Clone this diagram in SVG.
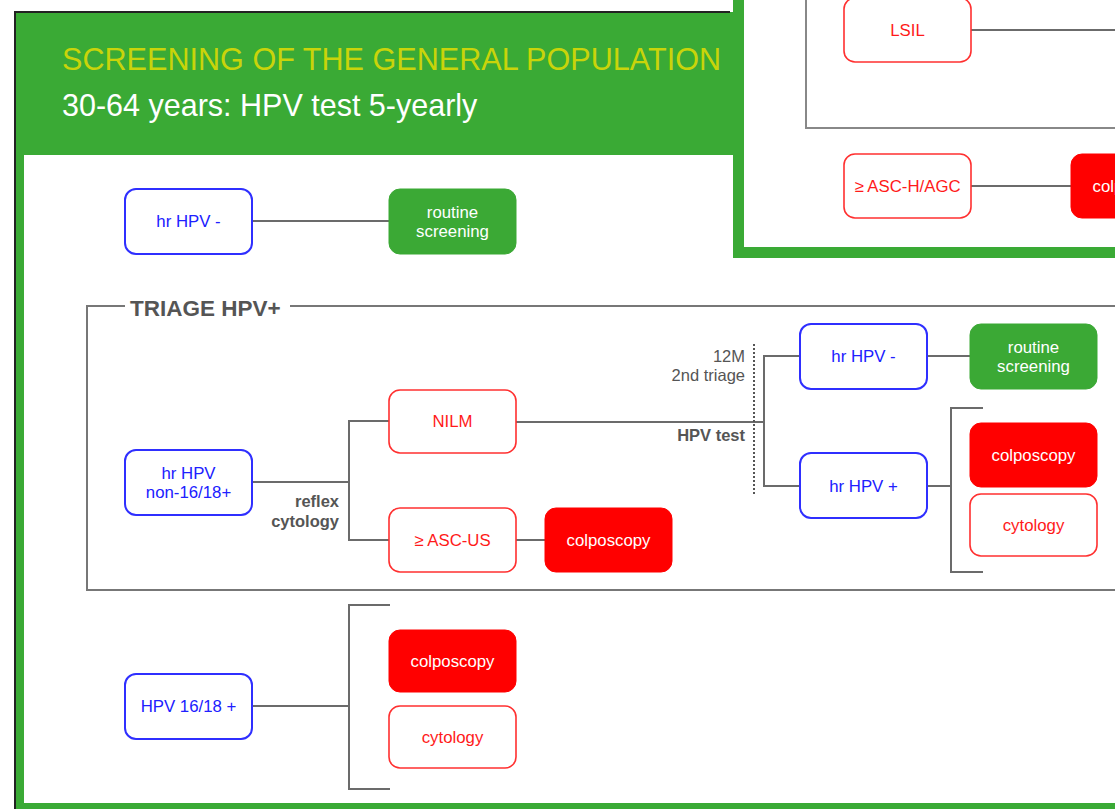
<svg xmlns="http://www.w3.org/2000/svg" width="1115" height="809" viewBox="0 0 1115 809">
<style>
text{font-family:"Liberation Sans",Arial,sans-serif;text-anchor:middle}
.bl{fill:#fff;stroke:#2f2fff;stroke-width:2}
.ro{fill:#fff;stroke:#ff3030;stroke-width:1.6}
.rf{fill:#ff0000;stroke:#ff0000;stroke-width:1}
.gf{fill:#3ba935;stroke:#3ba935;stroke-width:1}
.tb{fill:#2020ff;font-size:16.8px}
.tr{fill:#ff1a1a;font-size:16.8px}
.tw{fill:#fff;font-size:16.8px}
.lbl{fill:#555;font-size:16.5px;text-anchor:end}
.b{font-weight:bold}
.con{fill:none;stroke:#6b6b6b;stroke-width:2}
</style>
<rect width="1115" height="809" fill="#fff"/>
<!-- main frame -->
<g id="frame">
<rect x="16" y="12" width="1120" height="800" fill="#3aaa35"/>
<rect x="24" y="155" width="1100" height="648" fill="#fff"/>
<path d="M15 809 V12 H730" fill="none" stroke="#222" stroke-width="2"/>
<text x="62" y="70" style="text-anchor:start;font-size:30.6px;fill:#c9d40a">SCREENING OF THE GENERAL POPULATION</text>
<text x="62" y="116" style="text-anchor:start;font-size:30.5px;fill:#fff">30-64 years: HPV test 5-yearly</text>
</g>
<!-- triage group -->
<g id="triage-box">
<path d="M125 306 H87 V590 H1130 M290 306 H1130" fill="none" stroke="#777" stroke-width="2"/>
<text x="130" y="316" class="b" style="text-anchor:start;font-size:22.5px;fill:#555">TRIAGE HPV+</text>
</g>
<!-- connectors -->
<g id="connectors" class="con">
<path d="M252 221 H389"/>
<path d="M252 482 H349 M389 421 H349 V540 H389"/>
<path d="M516 540 H545"/>
<path d="M516 422 H764 M800 356 H764 V486 H800"/>
<path d="M927 356 H970"/>
<path d="M927 486 H951 M983 408 H951 V572 H983"/>
<path d="M252 706 H349 M390 605 H349 V789 H390"/>
<path d="M754 344 V496" stroke="#555" stroke-width="2" stroke-dasharray="2 2"/>
</g>
<g id="labels">
<text x="339" y="507" class="lbl b">reflex</text>
<text x="339" y="527" class="lbl b">cytology</text>
<text x="745" y="362" class="lbl">12M</text>
<text x="745" y="381" class="lbl">2nd triage</text>
<text x="745" y="441" class="lbl b">HPV test</text>
</g>
<!-- nodes -->
<g id="n-hrhpv-neg"><rect x="125" y="189" width="127" height="65" rx="11" class="bl"/><text x="188.5" y="227" class="tb">hr HPV -</text></g>
<g id="n-routine1"><rect x="389" y="189" width="127" height="65" rx="11" class="gf"/><text x="452.5" y="218" class="tw">routine</text><text x="452.5" y="237" class="tw">screening</text></g>
<g id="n-hrhpv-non"><rect x="125" y="450" width="127" height="65" rx="11" class="bl"/><text x="188.5" y="479" class="tb">hr HPV</text><text x="188.5" y="498" class="tb">non-16/18+</text></g>
<g id="n-nilm"><rect x="389" y="390" width="127" height="63" rx="11" class="ro"/><text x="452.5" y="427" class="tr">NILM</text></g>
<g id="n-ascus"><rect x="389" y="508" width="127" height="64" rx="11" class="ro"/><text x="452.5" y="546" class="tr">≥ ASC-US</text></g>
<g id="n-colpo1"><rect x="545" y="508" width="127" height="64" rx="11" class="rf"/><text x="608.5" y="546" class="tw">colposcopy</text></g>
<g id="n-hrhpv-neg2"><rect x="800" y="324" width="127" height="65" rx="11" class="bl"/><text x="863.5" y="362" class="tb">hr HPV -</text></g>
<g id="n-routine2"><rect x="970" y="324" width="127" height="65" rx="11" class="gf"/><text x="1033.5" y="353" class="tw">routine</text><text x="1033.5" y="372" class="tw">screening</text></g>
<g id="n-hrhpv-pos"><rect x="800" y="453" width="127" height="65" rx="11" class="bl"/><text x="863.5" y="492" class="tb">hr HPV +</text></g>
<g id="n-colpo2"><rect x="970" y="423" width="127" height="64" rx="11" class="rf"/><text x="1033.5" y="461" class="tw">colposcopy</text></g>
<g id="n-cyto2"><rect x="970" y="494" width="127" height="62" rx="11" class="ro"/><text x="1033.5" y="531" class="tr">cytology</text></g>
<g id="n-hpv1618"><rect x="125" y="674" width="127" height="65" rx="11" class="bl"/><text x="188.5" y="712" class="tb">HPV 16/18 +</text></g>
<g id="n-colpo3"><rect x="389" y="630" width="127" height="62" rx="11" class="rf"/><text x="452.5" y="667" class="tw">colposcopy</text></g>
<g id="n-cyto3"><rect x="389" y="706" width="127" height="62" rx="11" class="ro"/><text x="452.5" y="743" class="tr">cytology</text></g>
<!-- overlay panel -->
<g id="overlay">
<rect x="738.5" y="-20" width="400" height="272.5" fill="#fff" stroke="#3aaa35" stroke-width="11"/>
<path d="M806 -5 V128 H1130" fill="none" stroke="#888" stroke-width="2"/>
<path d="M971 30 H1130 M971 186 H1071" class="con"/>
<g id="n-lsil"><rect x="844" y="-2" width="127" height="64" rx="11" class="ro"/><text x="907.5" y="36" class="tr">LSIL</text></g>
<g id="n-asch"><rect x="844" y="154" width="127" height="64" rx="11" class="ro"/><text x="907.5" y="192" class="tr">≥ ASC-H/AGC</text></g>
<g id="n-colpo4"><rect x="1071" y="154" width="127" height="64" rx="11" class="rf"/><text x="1134.5" y="192" class="tw">colposcopy</text></g>
</g>
</svg>
